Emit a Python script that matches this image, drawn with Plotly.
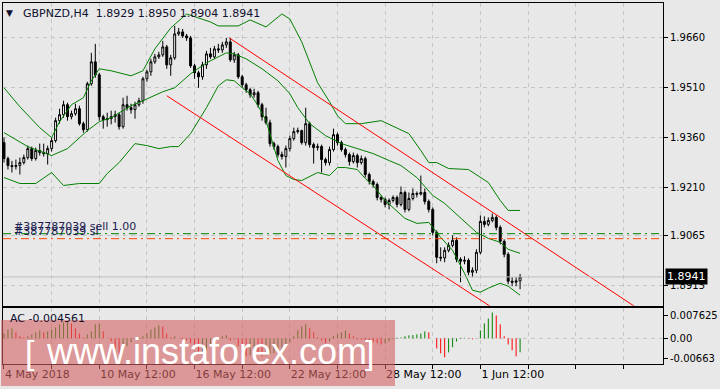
import plotly.graph_objects as go

# ---------------- data ----------------
bar_index = list(range(131))

opens = [
    1.9345, 1.9297, 1.9276, 1.9273, 1.9276, 1.9285, 1.9300, 1.9327, 1.9297, 1.9321,
    1.9315, 1.9312, 1.9327, 1.9351, 1.9411, 1.9429, 1.9459, 1.9423, 1.9432, 1.9447,
    1.9402, 1.9384, 1.9522, 1.9588, 1.9549, 1.9423, 1.9414, 1.9417, 1.9423, 1.9429,
    1.9393, 1.9459, 1.9450, 1.9444, 1.9459, 1.9471, 1.9537, 1.9558, 1.9588, 1.9603,
    1.9609, 1.9633, 1.9579, 1.9600, 1.9672, 1.9678, 1.9666, 1.9660, 1.9576, 1.9555,
    1.9543, 1.9579, 1.9612, 1.9603, 1.9627, 1.9624, 1.9639, 1.9648, 1.9594, 1.9609,
    1.9543, 1.9519, 1.9504, 1.9489, 1.9495, 1.9459, 1.9423, 1.9405, 1.9342, 1.9333,
    1.9309, 1.9303, 1.9327, 1.9357, 1.9378, 1.9381, 1.9345, 1.9402, 1.9339, 1.9330,
    1.9333, 1.9294, 1.9285, 1.9324, 1.9369, 1.9345, 1.9324, 1.9309, 1.9288, 1.9306,
    1.9285, 1.9297, 1.9249, 1.9228, 1.9219, 1.9180, 1.9174, 1.9159, 1.9171, 1.9180,
    1.9159, 1.9195, 1.9144, 1.9177, 1.9192, 1.9190, 1.9195, 1.9168, 1.9144, 1.9075,
    1.9000, 1.8998, 1.9021, 1.9036, 1.9051, 1.8994, 1.8988, 1.8991, 1.8955, 1.8961,
    1.9015, 1.9108, 1.9099, 1.9111, 1.9120, 1.9090, 1.9048, 1.9009, 1.8928, 1.8925,
    1.8929]

closes = [
    1.9297, 1.9276, 1.9273, 1.9276, 1.9285, 1.9300, 1.9327, 1.9297, 1.9321, 1.9315,
    1.9312, 1.9327, 1.9351, 1.9411, 1.9429, 1.9459, 1.9423, 1.9432, 1.9447, 1.9402,
    1.9384, 1.9522, 1.9588, 1.9549, 1.9423, 1.9414, 1.9417, 1.9423, 1.9429, 1.9393,
    1.9459, 1.9450, 1.9444, 1.9459, 1.9471, 1.9537, 1.9558, 1.9588, 1.9603, 1.9609,
    1.9633, 1.9579, 1.9600, 1.9672, 1.9678, 1.9666, 1.9660, 1.9576, 1.9555, 1.9543,
    1.9579, 1.9612, 1.9603, 1.9627, 1.9624, 1.9639, 1.9648, 1.9594, 1.9609, 1.9543,
    1.9519, 1.9504, 1.9489, 1.9495, 1.9459, 1.9423, 1.9405, 1.9342, 1.9333, 1.9309,
    1.9303, 1.9327, 1.9357, 1.9378, 1.9381, 1.9345, 1.9402, 1.9339, 1.9330, 1.9333,
    1.9294, 1.9285, 1.9324, 1.9369, 1.9345, 1.9324, 1.9309, 1.9288, 1.9306, 1.9285,
    1.9297, 1.9249, 1.9228, 1.9219, 1.9180, 1.9174, 1.9159, 1.9171, 1.9180, 1.9159,
    1.9195, 1.9144, 1.9177, 1.9192, 1.9190, 1.9195, 1.9168, 1.9144, 1.9075, 1.9000,
    1.8998, 1.9021, 1.9036, 1.9051, 1.8994, 1.8988, 1.8991, 1.8955, 1.8961, 1.9015,
    1.9108, 1.9099, 1.9111, 1.9120, 1.9090, 1.9048, 1.9009, 1.8928, 1.8925, 1.8929,
    1.8941]

highs = [
    1.9360, 1.9303, 1.9290, 1.9294, 1.9300, 1.9309, 1.9336, 1.9333, 1.9330, 1.9342,
    1.9342, 1.9336, 1.9360, 1.9420, 1.9447, 1.9471, 1.9465, 1.9441, 1.9462, 1.9456,
    1.9408, 1.9528, 1.9615, 1.9642, 1.9555, 1.9429, 1.9435, 1.9441, 1.9441, 1.9435,
    1.9480, 1.9486, 1.9462, 1.9468, 1.9480, 1.9543, 1.9564, 1.9597, 1.9612, 1.9618,
    1.9651, 1.9639, 1.9609, 1.9696, 1.9690, 1.9687, 1.9672, 1.9666, 1.9582, 1.9561,
    1.9588, 1.9621, 1.9630, 1.9636, 1.9642, 1.9648, 1.9660, 1.9660, 1.9618, 1.9615,
    1.9549, 1.9525, 1.9510, 1.9507, 1.9501, 1.9465, 1.9450, 1.9414, 1.9348, 1.9339,
    1.9318, 1.9336, 1.9366, 1.9390, 1.9390, 1.9384, 1.9450, 1.9408, 1.9345, 1.9342,
    1.9339, 1.9300, 1.9333, 1.9387, 1.9375, 1.9351, 1.9330, 1.9315, 1.9315, 1.9312,
    1.9306, 1.9303, 1.9255, 1.9234, 1.9225, 1.9186, 1.9180, 1.9177, 1.9186, 1.9186,
    1.9213, 1.9201, 1.9195, 1.9207, 1.9198, 1.9246, 1.9207, 1.9174, 1.9150, 1.9081,
    1.9030, 1.9030, 1.9045, 1.9066, 1.9060, 1.9000, 1.9003, 1.8997, 1.8970, 1.9024,
    1.9126, 1.9123, 1.9120, 1.9132, 1.9126, 1.9096, 1.9054, 1.9015, 1.8940, 1.8940,
    1.8950]

lows = [
    1.9285, 1.9264, 1.9255, 1.9264, 1.9249, 1.9279, 1.9294, 1.9290, 1.9291, 1.9306,
    1.9303, 1.9279, 1.9318, 1.9345, 1.9402, 1.9420, 1.9411, 1.9415, 1.9426, 1.9396,
    1.9375, 1.9378, 1.9516, 1.9540, 1.9411, 1.9387, 1.9393, 1.9400, 1.9405, 1.9384,
    1.9387, 1.9441, 1.9432, 1.9417, 1.9453, 1.9462, 1.9528, 1.9546, 1.9582, 1.9597,
    1.9603, 1.9567, 1.9546, 1.9594, 1.9666, 1.9660, 1.9651, 1.9570, 1.9537, 1.9510,
    1.9534, 1.9567, 1.9597, 1.9597, 1.9615, 1.9615, 1.9630, 1.9588, 1.9585, 1.9537,
    1.9510, 1.9495, 1.9480, 1.9480, 1.9450, 1.9411, 1.9399, 1.9333, 1.9324, 1.9300,
    1.9294, 1.9270, 1.9318, 1.9351, 1.9372, 1.9339, 1.9336, 1.9330, 1.9282, 1.9321,
    1.9255, 1.9276, 1.9276, 1.9318, 1.9336, 1.9318, 1.9300, 1.9276, 1.9282, 1.9270,
    1.9279, 1.9240, 1.9219, 1.9210, 1.9171, 1.9165, 1.9150, 1.9144, 1.9165, 1.9150,
    1.9153, 1.9135, 1.9138, 1.9171, 1.9180, 1.9186, 1.9159, 1.9135, 1.9066, 1.8982,
    1.8988, 1.8985, 1.9015, 1.9030, 1.8985, 1.8925, 1.8979, 1.8946, 1.8940, 1.8952,
    1.9009, 1.9090, 1.9093, 1.9105, 1.9081, 1.9039, 1.9000, 1.8919, 1.8913, 1.8913,
    1.8904]

# Bollinger bands (read at sample bars)
bb_upper_idx = [0, 4, 9, 12, 14, 17, 20, 22, 24, 27, 32, 35, 38, 42, 46, 49, 52, 54, 59, 62,
                66, 70, 72, 75, 77, 79, 82, 84, 86, 90, 95, 99, 102, 105, 107, 109, 112, 117,
                120, 122, 125, 127, 130]
bb_upper = [1.9510, 1.9453, 1.9390, 1.9360, 1.9408, 1.9459, 1.9480, 1.9531, 1.9567, 1.9561,
            1.9546, 1.9561, 1.9627, 1.9690, 1.9732, 1.9720, 1.9708, 1.9696, 1.9696, 1.9714,
            1.9693, 1.9732, 1.9717, 1.9648, 1.9585, 1.9525, 1.9468, 1.9426, 1.9402, 1.9402,
            1.9411, 1.9390, 1.9372, 1.9321, 1.9285, 1.9285, 1.9267, 1.9264, 1.9240, 1.9225,
            1.9171, 1.9141, 1.9141]

bb_mid_idx = [0, 6, 12, 16, 21, 24, 27, 32, 35, 40, 43, 47, 51, 54, 56, 58, 61, 65, 69, 72,
              74, 77, 81, 85, 90, 93, 97, 100, 104, 108, 111, 114, 119, 122, 125, 127, 130]
bb_mid = [1.9375, 1.9333, 1.9306, 1.9327, 1.9381, 1.9408, 1.9420, 1.9456, 1.9471, 1.9498,
          1.9510, 1.9552, 1.9585, 1.9603, 1.9615, 1.9612, 1.9597, 1.9567, 1.9531, 1.9492,
          1.9450, 1.9402, 1.9366, 1.9342, 1.9324, 1.9312, 1.9291, 1.9276, 1.9240, 1.9186,
          1.9162, 1.9129, 1.9075, 1.9057, 1.9045, 1.9024, 1.9012]

bb_lower_idx = [0, 4, 8, 12, 15, 19, 24, 26, 29, 33, 36, 39, 42, 44, 47, 51, 54, 56, 58, 60,
                62, 64, 66, 69, 71, 73, 75, 77, 79, 82, 84, 86, 89, 91, 93, 96, 98, 101, 104,
                107, 110, 113, 116, 118, 120, 122, 125, 127, 130]
bb_lower = [1.9240, 1.9222, 1.9222, 1.9255, 1.9216, 1.9222, 1.9222, 1.9252, 1.9285, 1.9342,
            1.9336, 1.9327, 1.9333, 1.9333, 1.9372, 1.9450, 1.9516, 1.9534, 1.9531, 1.9510,
            1.9492, 1.9456, 1.9411, 1.9291, 1.9246, 1.9234, 1.9231, 1.9243, 1.9255, 1.9246,
            1.9270, 1.9270, 1.9264, 1.9237, 1.9216, 1.9171, 1.9150, 1.9117, 1.9102, 1.9105,
            1.9060, 1.9021, 1.8952, 1.8901, 1.8895, 1.8907, 1.8922, 1.8913, 1.8886]

# red trend channel (two points each)
channel_upper_idx = [56.75, 170]
channel_upper = [1.9660, 1.8764]
channel_lower_idx = [41, 125]
channel_lower = [1.9486, 1.8833]

# order lines
order_open_price = 1.9071
order_sl_price = 1.9056
last_price = 1.8941

# Accelerator oscillator
ac = [
    0.0016, 0.0029, 0.0033, 0.0020, 0.0007, 0.0003, 0.0007, 0.0013, 0.0020, 0.0026,
    0.0020, 0.0023, 0.0029, 0.0036, 0.0046, 0.0052, 0.0056, 0.0049, 0.0033, 0.0016,
    0.0003, 0.0013, 0.0023, 0.0046, 0.0049, 0.0023, 0.0000, -0.0010, -0.0033, -0.0049,
    -0.0039, -0.0026, -0.0013, -0.0003, 0.0003, 0.0007, 0.0016, 0.0029, 0.0036, 0.0043,
    0.0039, 0.0016, 0.0003, 0.0007, 0.0000, -0.0003, -0.0007, -0.0016, -0.0033, -0.0052,
    -0.0049, -0.0039, -0.0026, -0.0013, 0.0003, 0.0007, 0.0010, -0.0007, -0.0003, -0.0026,
    -0.0046, -0.0059, -0.0056, -0.0049, -0.0052, -0.0059, -0.0056, -0.0052, -0.0049, -0.0043,
    -0.0036, -0.0026, -0.0013, 0.0007, 0.0026, 0.0039, 0.0046, 0.0033, 0.0020, 0.0003,
    -0.0007, -0.0016, -0.0010, 0.0007, 0.0013, 0.0020, 0.0026, 0.0016, 0.0007, -0.0003,
    -0.0004, -0.0007, -0.0010, -0.0013, -0.0016, -0.0020, -0.0016, -0.0010, -0.0003, 0.0002,
    0.0003, 0.0007, 0.0010, 0.0011, 0.0013, 0.0016, 0.0023, 0.0020, 0.0000, -0.0033,
    -0.0049, -0.0062, -0.0046, -0.0029, -0.0010, -0.0002, 0.0002, 0.0001, -0.0003, 0.0000,
    0.0026, 0.0049, 0.0065, 0.0085, 0.0075, 0.0046, 0.0007, -0.0020, -0.0039, -0.0059,
    -0.004561]

price_ticks = [1.9660, 1.9510, 1.9360, 1.9210, 1.9065, 1.8915]
price_tick_text = ["1.9660", "1.9510", "1.9360", "1.9210", "1.9065", "1.8915"]
ac_ticks = [0.007625, 0.0, -0.00663]
ac_tick_text = ["0.007625", "0.00", "-0.00663"]
time_tick_idx = [0, 24, 48, 72, 96, 120]
time_tick_text = ["4 May 2018", "10 May 12:00", "16 May 12:00", "22 May 12:00",
                  "28 May 12:00", "1 Jun 12:00"]
grid_idx = list(range(0, 166, 12))

title_text = "GBPNZD,H4  1.8929 1.8950 1.8904 1.8941"
ac_title = "AC -0.004561"
order_text_1 = "#387787039 sell 1.00"
order_text_2 = "#387787039 sl"

# ---------------- figure ----------------
BG = "#E8E8E8"
GRID = "#C6C6C6"
FONT = "DejaVu Sans"
X_RANGE = [-0.25, 166]

fig = go.Figure()

# Bollinger bands
for xi, yi in ((bb_upper_idx, bb_upper), (bb_mid_idx, bb_mid), (bb_lower_idx, bb_lower)):
    fig.add_trace(go.Scatter(x=xi, y=yi, mode="lines", line=dict(color="#008000", width=1),
                             hoverinfo="skip", showlegend=False, xaxis="x", yaxis="y"))

# channel lines
for xi, yi in ((channel_upper_idx, channel_upper), (channel_lower_idx, channel_lower)):
    fig.add_trace(go.Scatter(x=xi, y=yi, mode="lines", line=dict(color="#FF0000", width=1),
                             hoverinfo="skip", showlegend=False, xaxis="x", yaxis="y"))

# order lines and current price line
fig.add_trace(go.Scatter(x=X_RANGE, y=[last_price, last_price], mode="lines",
                         line=dict(color="#C0C0C0", width=1), hoverinfo="skip",
                         showlegend=False, xaxis="x", yaxis="y"))
fig.add_trace(go.Scatter(x=X_RANGE, y=[order_open_price] * 2, mode="lines",
                         line=dict(color="#008000", width=1, dash="8px,4px,2px,4px"),
                         hoverinfo="skip", showlegend=False, xaxis="x", yaxis="y"))
fig.add_trace(go.Scatter(x=X_RANGE, y=[order_sl_price] * 2, mode="lines",
                         line=dict(color="#FF4500", width=1, dash="8px,4px,2px,4px"),
                         hoverinfo="skip", showlegend=False, xaxis="x", yaxis="y"))

# candles
fig.add_trace(go.Candlestick(
    x=bar_index, open=opens, high=highs, low=lows, close=closes,
    increasing=dict(line=dict(color="black", width=1), fillcolor="white"),
    decreasing=dict(line=dict(color="black", width=1), fillcolor="black"),
    whiskerwidth=0, hoverinfo="skip", showlegend=False, xaxis="x", yaxis="y"))

# AC histogram as 1px vertical lines
gx, gy, rx, ry = [], [], [], []
for i, v in enumerate(ac):
    rising = i == 0 or v > ac[i - 1]
    tx, ty = (gx, gy) if rising else (rx, ry)
    tx += [i, i, None]
    ty += [0, v, None]
fig.add_trace(go.Scatter(x=gx, y=gy, mode="lines", line=dict(color="#008000", width=1),
                         hoverinfo="skip", showlegend=False, xaxis="x2", yaxis="y2"))
fig.add_trace(go.Scatter(x=rx, y=ry, mode="lines", line=dict(color="#FF0000", width=1),
                         hoverinfo="skip", showlegend=False, xaxis="x2", yaxis="y2"))

W, H = 720, 389
L, R, T, B = 2, 53, 2, 25
PW, PH = W - L - R, H - T - B


def px_x(x):
    return (x - L) / PW


def px_y(y):
    return (H - B - y) / PH


main_bottom = px_y(305.5)
ac_top = px_y(307.5)

fig.update_layout(
    width=W, height=H,
    margin=dict(l=L, r=R, t=T, b=B),
    paper_bgcolor=BG, plot_bgcolor=BG,
    font=dict(family=FONT, size=10, color="black"),
    showlegend=False,
    xaxis=dict(domain=[0, 1], range=X_RANGE, anchor="y", tickmode="array", tickvals=grid_idx,
               showticklabels=False, ticks="", showgrid=True, gridcolor=GRID, griddash="4px,4px",
               gridwidth=1, showline=True, mirror=True, linecolor="black", linewidth=1,
               zeroline=False, rangeslider=dict(visible=False), fixedrange=True),
    yaxis=dict(domain=[main_bottom, 1], range=[1.88545, 1.9765], side="right", anchor="x",
               tickmode="array", tickvals=price_ticks, ticktext=price_tick_text,
               ticks="outside", ticklen=4, tickcolor="black", showgrid=True, gridcolor=GRID,
               griddash="4px,4px", showline=True, mirror=True, linecolor="black",
               zeroline=False, fixedrange=True),
    xaxis2=dict(domain=[0, 1], range=X_RANGE, anchor="y2", tickmode="array", tickvals=grid_idx,
                ticktext=[time_tick_text[time_tick_idx.index(g)] if g in time_tick_idx else ""
                          for g in grid_idx],
                ticks="outside", ticklen=4, tickcolor="black",
                ticklabelposition="outside right", tickfont=dict(size=11),
                showgrid=True, gridcolor=GRID, griddash="4px,4px", showline=True, mirror=True,
                linecolor="black", zeroline=False, fixedrange=True),
    yaxis2=dict(domain=[0, ac_top], range=[-0.0084, 0.01007], side="right", anchor="x2",
                tickmode="array", tickvals=ac_ticks, ticktext=ac_tick_text, ticks="outside",
                ticklen=4, tickcolor="black", showgrid=False, showline=True, mirror=True,
                linecolor="black", zeroline=False, fixedrange=True),
)

# zero line of AC
fig.add_shape(type="line", xref="x2", yref="y2", x0=X_RANGE[0], x1=X_RANGE[1], y0=0, y1=0,
              line=dict(color=GRID, width=1, dash="4px,4px"), layer="below")

# watermark box
fig.add_shape(type="rect", xref="paper", yref="paper", x0=px_x(0), x1=px_x(397),
              y0=px_y(386), y1=px_y(320), fillcolor="rgba(212,98,98,0.6)", line=dict(width=0),
              layer="above")

WM_FONT = "Liberation Sans Narrow, Liberation Sans"
annotations = [
    dict(text="▼", x=px_x(9), y=px_y(12), xanchor="center", yanchor="middle",
         font=dict(size=9, color="#101030")),
    dict(text=title_text, x=px_x(20), y=px_y(13), xanchor="left", yanchor="middle",
         font=dict(size=11, color="#101030")),
    dict(text=ac_title, x=px_x(7), y=px_y(318), xanchor="left", yanchor="middle",
         font=dict(size=11, color="#101030")),
    dict(text=order_text_1, x=px_x(11), y=px_y(226), xanchor="left", yanchor="middle",
         font=dict(size=11, color="#202050")),
    dict(text=order_text_2, x=px_x(11), y=px_y(231), xanchor="left", yanchor="middle",
         font=dict(size=11, color="#202050")),
    dict(text="www.instaforex.com", x=px_x(207), y=px_y(351), xanchor="center",
         yanchor="middle", font=dict(size=36, color="white", family=WM_FONT)),
    dict(text="[", x=px_x(29), y=px_y(352), xanchor="center", yanchor="middle",
         font=dict(size=34, color="white", family=WM_FONT)),
    dict(text="]", x=px_x(371), y=px_y(352), xanchor="center", yanchor="middle",
         font=dict(size=34, color="white", family=WM_FONT)),
    dict(text=f"{last_price:.4f}", x=px_x(669), y=last_price, yref="y", xanchor="left",
         yanchor="middle", bgcolor="black", borderpad=1,
         font=dict(size=11, color="white")),
]
for a in annotations:
    a.setdefault("xref", "paper")
    a.setdefault("yref", "paper")
    a["showarrow"] = False
    fig.add_annotation(**a)

fig.write_html("out.html")
